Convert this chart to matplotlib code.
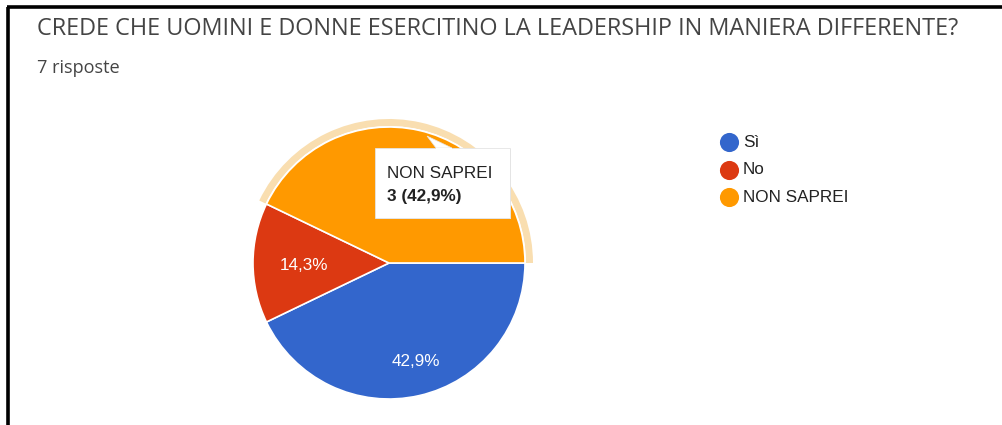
import matplotlib
matplotlib.use('Agg')
import matplotlib.pyplot as plt
from matplotlib.patches import Wedge, Polygon, Rectangle

#survey answers
labels = ['Sì', 'No', 'NON SAPREI']
counts = [3, 1, 3]
colors = ['#3366cc', '#dc3912', '#ff9900']
title = 'CREDE CHE UOMINI E DONNE ESERCITINO LA LEADERSHIP IN MANIERA DIFFERENTE?'
n_answers = sum(counts)

W, H = 1002, 425
plt.rcParams['font.family'] = ['Liberation Sans', 'DejaVu Sans']
fig = plt.figure(figsize=(W / 100, H / 100), dpi=100)
ax = fig.add_axes([0, 0, 1, 1])

def fit_width(txt, width):
    #scale font size so the text spans the given pixel width
    r = fig.canvas.get_renderer()
    w = txt.get_window_extent(renderer=r).width
    txt.set_fontsize(txt.get_fontsize() * width / w)

#pie
cx, cy, r = 389, H - 263, 136
total = sum(counts)
pcts = [c / total * 100 for c in counts]

def fmt(p):
    return f'{p:.1f}%'.replace('.', ',')

wedges, _ = ax.pie(counts, colors=colors, startangle=0, counterclock=False,
                   center=(cx, cy), radius=r, frame=True,
                   wedgeprops=dict(edgecolor='white', linewidth=1.2))
ax.set_xlim(0, W)
ax.set_ylim(0, H)
ax.set_aspect('equal')
ax.axis('off')

#frame lines (left and top)
ax.plot([8, 8], [0, H - 7], color='black', lw=2.6, solid_capstyle='butt')
ax.plot([7, W], [H - 7, H - 7], color='black', lw=2.6, solid_capstyle='butt')

t1 = ax.text(37, H - 29, title, fontsize=13, color='#444444', va='center', ha='left',
             family=['Open Sans', 'DejaVu Sans'])
fit_width(t1, 921)
t2 = ax.text(37, H - 68, f'{n_answers} risposte', fontsize=10, color='#444444',
             va='center', ha='left', family=['Open Sans', 'DejaVu Sans'])
fit_width(t2, 83)

#highlight ring on the hovered slice
hw = wedges[2]
ax.add_patch(Wedge((cx, cy), r + 8, hw.theta1, hw.theta2, width=7,
                   facecolor='#f9deb0', edgecolor='none', zorder=0.5))

#percentage labels inside slices
ax.text(304, H - 266, fmt(pcts[1]), color='white', fontsize=12.3, ha='center', va='center')
ax.text(416, H - 362, fmt(pcts[0]), color='white', fontsize=12.3, ha='center', va='center')

#tooltip
bx0, by0, bx1, by1 = 375, H - 218, 510, H - 148
ax.add_patch(Rectangle((bx0 + 1, by0 - 1), bx1 - bx0, by1 - by0, facecolor='#d5d5d5',
                       edgecolor='none', zorder=3))
ax.add_patch(Rectangle((bx0, by0), bx1 - bx0, by1 - by0, facecolor='white',
                       edgecolor='#e4e4e4', lw=0.6, zorder=4))
ax.add_patch(Polygon([(427, H - 136), (436, by1), (452, by1)], closed=True,
                     facecolor='white', edgecolor='#e4e4e4', lw=0.5, zorder=4))
ax.add_patch(Rectangle((436, by1 - 1.5), 16, 2, facecolor='white', edgecolor='none', zorder=4.5))
ax.text(387, H - 173, labels[2], fontsize=12.3, color='#222222', va='center', ha='left',
        zorder=5)
ax.text(387, H - 196, f'{counts[2]} ({fmt(pcts[2])})', fontsize=12.3, color='#222222',
        fontweight='bold', va='center', ha='left', zorder=5)

#legend
for i, (lab, col) in enumerate(zip(labels, colors)):
    y = H - (142 + 27.5 * i)
    ax.scatter([729], [y], s=190, color=col, zorder=5, linewidths=0)
    ax.text(743, y, lab, fontsize=12.3, color='#222222', va='center', ha='left')

fig.savefig('out.png', dpi=100, facecolor='white')
